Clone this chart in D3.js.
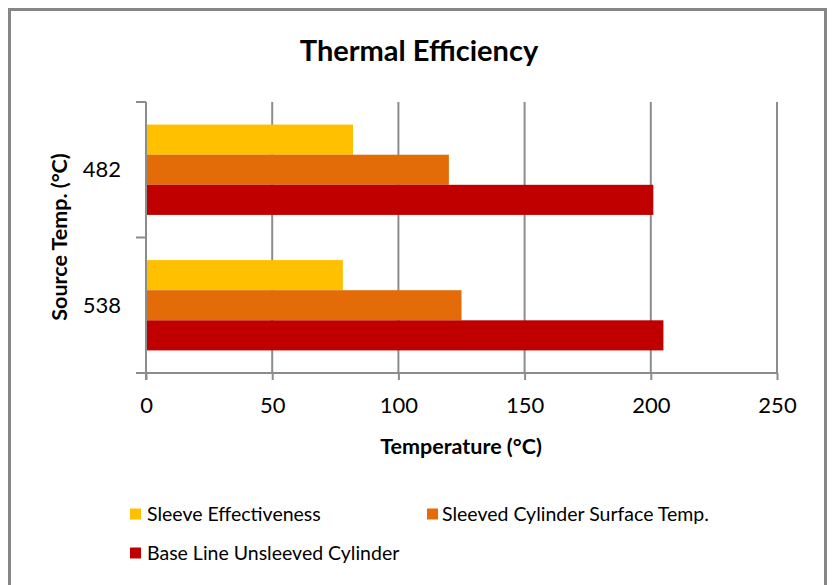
<!DOCTYPE html>
<html><head><meta charset="utf-8">
<script src="https://cdn.jsdelivr.net/npm/d3@7"></script>
<style>body{margin:0;background:#fff;}svg{display:block;}</style>
</head><body>
<script>
const categories = ["482", "538"];
const seriesNames = ["Sleeve Effectiveness", "Sleeved Cylinder Surface Temp.", "Base Line Unsleeved Cylinder"];
const sleeveEffectiveness = [82, 78];
const sleevedSurfaceTemp = [120, 125];
const baseLineUnsleeved = [201, 205];
const xTicks = [0, 50, 100, 150, 200, 250];
const colors = ["#FFC000", "#E36C09", "#C00000"];
const seriesValues = [sleeveEffectiveness, sleevedSurfaceTemp, baseLineUnsleeved];

const W = 833, H = 585;
const font = "Lato, 'Open Sans', sans-serif";
const svg = d3.select("body").append("svg").attr("width", W).attr("height", H);
svg.append("rect").attr("width", W).attr("height", H).attr("fill", "#fff");
svg.append("rect").attr("x", 9.5).attr("y", 9.5).attr("width", 816).attr("height", 600)
  .attr("fill", "none").attr("stroke", "#868686").attr("stroke-width", 3);

const L = 146, R = 777, T = 102, B = 373;
const x = d3.scaleLinear().domain([0, 250]).range([L, R]);
const y = d3.scaleBand().domain(categories).range([T, B]).paddingInner(0.3333).paddingOuter(0.16667);
const ys = d3.scaleBand().domain(d3.range(seriesNames.length)).range([0, y.bandwidth()]);

// title
svg.append("text").attr("x", 419).attr("y", 61).attr("text-anchor", "middle")
  .attr("font-family", font).attr("font-weight", "bold").attr("font-size", 29).text("Thermal Efficiency");

// gridlines
svg.append("g").selectAll("line").data(xTicks.slice(1)).join("line")
  .attr("x1", d => x(d)).attr("x2", d => x(d)).attr("y1", T).attr("y2", B)
  .attr("stroke", "#8c8c8c").attr("stroke-width", 2);

// bars
const rows = [];
categories.forEach((c, ci) => seriesValues.forEach((s, si) => rows.push({c, si, v: s[ci]})));
svg.append("g").selectAll("rect").data(rows).join("rect")
  .attr("x", x(0)).attr("y", d => y(d.c) + ys(d.si))
  .attr("width", d => x(d.v) - x(0)).attr("height", ys.bandwidth())
  .attr("fill", d => colors[d.si]);

// x axis
const xAxis = d3.axisBottom(x).tickValues(xTicks).tickSize(7).tickPadding(17).tickSizeOuter(0);
const gx = svg.append("g").attr("transform", `translate(0,${B})`).call(xAxis);
gx.select(".domain").attr("stroke", "#8c8c8c").attr("stroke-width", 2).attr("d", `M${L-10},0H${R}`);
gx.selectAll(".tick line").attr("stroke", "#8c8c8c").attr("stroke-width", 2);
gx.selectAll(".tick text").attr("font-family", font).attr("font-size", 22).attr("fill", "#000");

// y axis
const yEdges = [T, (T + B) / 2, B];
svg.append("line").attr("x1", L).attr("x2", L).attr("y1", T).attr("y2", B + 7)
  .attr("stroke", "#8c8c8c").attr("stroke-width", 2);
svg.append("g").selectAll("line").data(yEdges).join("line")
  .attr("x1", L - 10).attr("x2", L).attr("y1", d => d).attr("y2", d => d)
  .attr("stroke", "#8c8c8c").attr("stroke-width", 2);
svg.append("g").selectAll("text").data(categories).join("text")
  .attr("x", 121).attr("y", d => y(d) + y.bandwidth() / 2).attr("dy", "0.35em")
  .attr("text-anchor", "end").attr("font-family", font).attr("font-size", 22).text(d => d);

// axis titles
svg.append("text").attr("x", 461).attr("y", 454).attr("text-anchor", "middle")
  .attr("font-family", font).attr("font-weight", "bold").attr("font-size", 21.5).text("Temperature (°C)");
svg.append("text").attr("transform", "translate(67,237) rotate(-90)").attr("text-anchor", "middle")
  .attr("font-family", font).attr("font-weight", "bold").attr("font-size", 21.5).text("Source Temp. (°C)");

// legend
const legPos = [[130, 514], [427, 514], [130, 553]];
const lg = svg.append("g").selectAll("g").data(seriesNames).join("g")
  .attr("transform", (d, i) => `translate(${legPos[i][0]},${legPos[i][1]})`);
lg.append("rect").attr("x", 0).attr("y", -5.5).attr("width", 11).attr("height", 11).attr("fill", (d, i) => colors[i]);
lg.append("text").attr("x", (d, i) => i === 1 ? 15 : 17).attr("y", 0).attr("dy", "0.35em")
  .attr("font-family", font).attr("font-size", 19.5).text(d => d);
</script>
</body></html>
